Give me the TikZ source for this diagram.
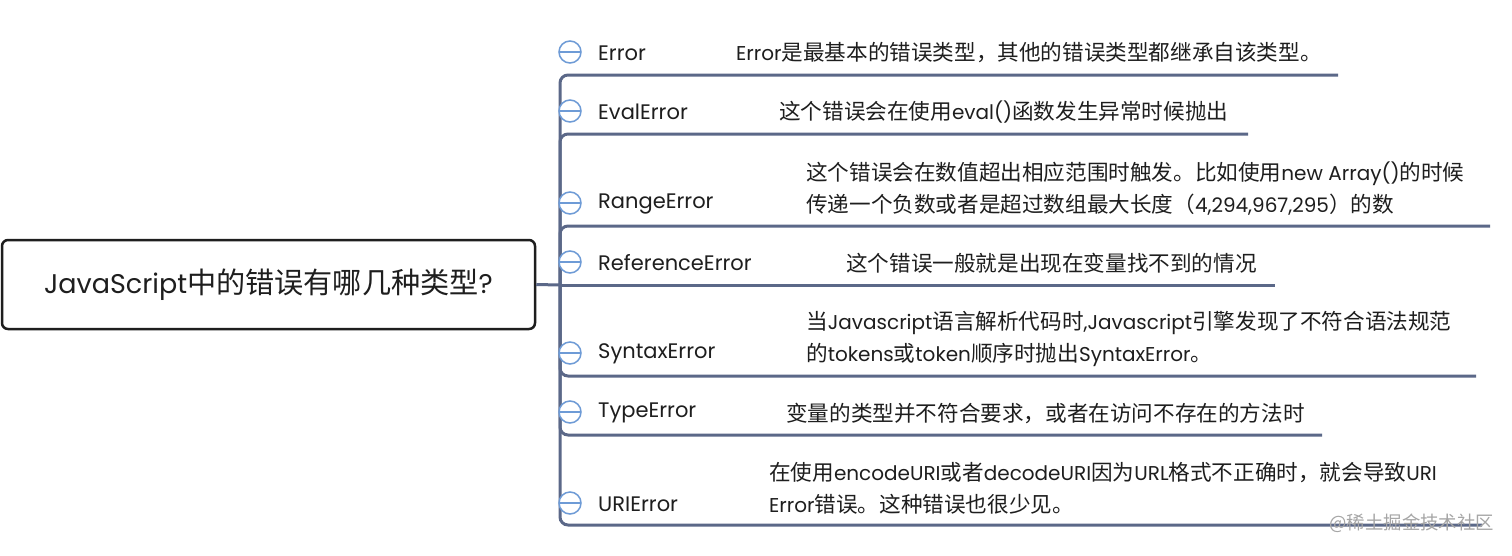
\documentclass[tikz,border=0pt]{standalone}
\usepackage{fontspec}
\setmainfont{Poppins}
\newfontfamily\cjk[Scale=1.08]{Noto Sans CJK SC}
\newcommand\zh[1]{{\cjk #1}}
\definecolor{branch}{HTML}{5B6888}
\definecolor{circ}{HTML}{6E9BD6}
\definecolor{ink}{HTML}{1E1E1E}
\begin{document}
\begin{tikzpicture}[x=1pt,y=-1pt,
 lbl/.style={anchor=west,inner sep=0pt,text=ink,font=\fontsize{21}{24}\selectfont},
 desc/.style={anchor=west,inner sep=0pt,align=left,text=ink,font=\fontsize{20}{32}\selectfont},
 br/.style={draw=branch,line width=3pt,rounded corners=8pt},
 minus/.style={circle,draw=circ,fill=white,line width=1.5pt,minimum size=22pt,inner sep=0pt,
   path picture={\draw[circ,line width=1.5pt](path picture bounding box.west)--(path picture bounding box.east);}},
 rootbox/.style={draw=ink,line width=2.5pt,rounded corners=6pt,fill=white,minimum width=533pt,minimum height=89pt,inner sep=0pt,text=ink,font=\fontsize{27}{30}\selectfont}]
\useasboundingbox[fill=white] (0,0) rectangle (1512,555);

\node[rootbox] (root) at (268.5,284.5) {JavaScript\zh{中的错误有哪几种类型}?};
\coordinate (j) at (560,285);
\coordinate (e1) at (1338,75);
\coordinate (e2) at (1248,134);
\coordinate (e3) at (1490,226);
\coordinate (e4) at (1275,285);
\coordinate (e5) at (1476,376);
\coordinate (e6) at (1322,435);
\coordinate (e7) at (1482,525);

\draw[br] (root.east) -- (j);
\draw[br] (j) |- (e1);
\draw[br] (j) |- (e2);
\draw[br] (j) |- (e3);
\draw[br] (j) -- (e4);
\draw[br] (j) |- (e5);
\draw[br] (j) |- (e6);
\draw[br] (j) |- (e7);

\node[minus] (c1) at (570,52) {};
\node[minus] (c2) at (570,111) {};
\node[minus] (c3) at (570,203) {};
\node[minus] (c4) at (570,262) {};
\node[minus] (c5) at (570,353) {};
\node[minus] (c6) at (570,412) {};
\node[minus] (c7) at (570,503) {};

\node[lbl] (l1) at (598,53) {Error};
\node[lbl] (l2) at (598,112) {EvalError};
\node[lbl] (l3) at (598,204) {RangeError};
\node[lbl] (l4) at (598,263) {ReferenceError};
\node[lbl] (l5) at (598,354) {SyntaxError};
\node[lbl] (l6) at (598,413) {TypeError};
\node[lbl] (l7) at (598,504) {URIError};

\node[desc] (d1) at (736,53) {Error\zh{是最基本的错误类型，其他的错误类型都继承自该类型。}};
\node[desc] (d2) at (779,112) {\zh{这个错误会在使用}eval()\zh{函数发生异常时候抛出}};
\node[desc] (d3) at (806,188.5) {\zh{这个错误会在数值超出相应范围时触发。比如使用}new Array()\zh{的时候}\\\zh{传递一个负数或者是超过数组最大长度（}4,294,967,295\zh{）的数}};
\node[desc] (d4) at (846,263) {\zh{这个错误一般就是出现在变量找不到的情况}};
\node[desc] (d5) at (806,339) {\zh{当}Javascript\zh{语言解析代码时},Javascript\zh{引擎发现了不符合语法规范}\\\zh{的}tokens\zh{或}token\zh{顺序时抛出}SyntaxError\zh{。}};
\node[desc] (d6) at (786,413) {\zh{变量的类型并不符合要求，或者在访问不存在的方法时}};
\node[desc] (d7) at (769,488.5) {\zh{在使用}encodeURI\zh{或者}decodeURI\zh{因为}URL\zh{格式不正确时，就会导致}URI\\Error\zh{错误。这种错误也很少见。}};

\node[anchor=east,inner sep=0pt,text=black!35,font=\fontsize{17}{20}\selectfont] (wm) at (1494,523) {\zh{@稀土掘金技术社区}};
\end{tikzpicture}
\end{document}
